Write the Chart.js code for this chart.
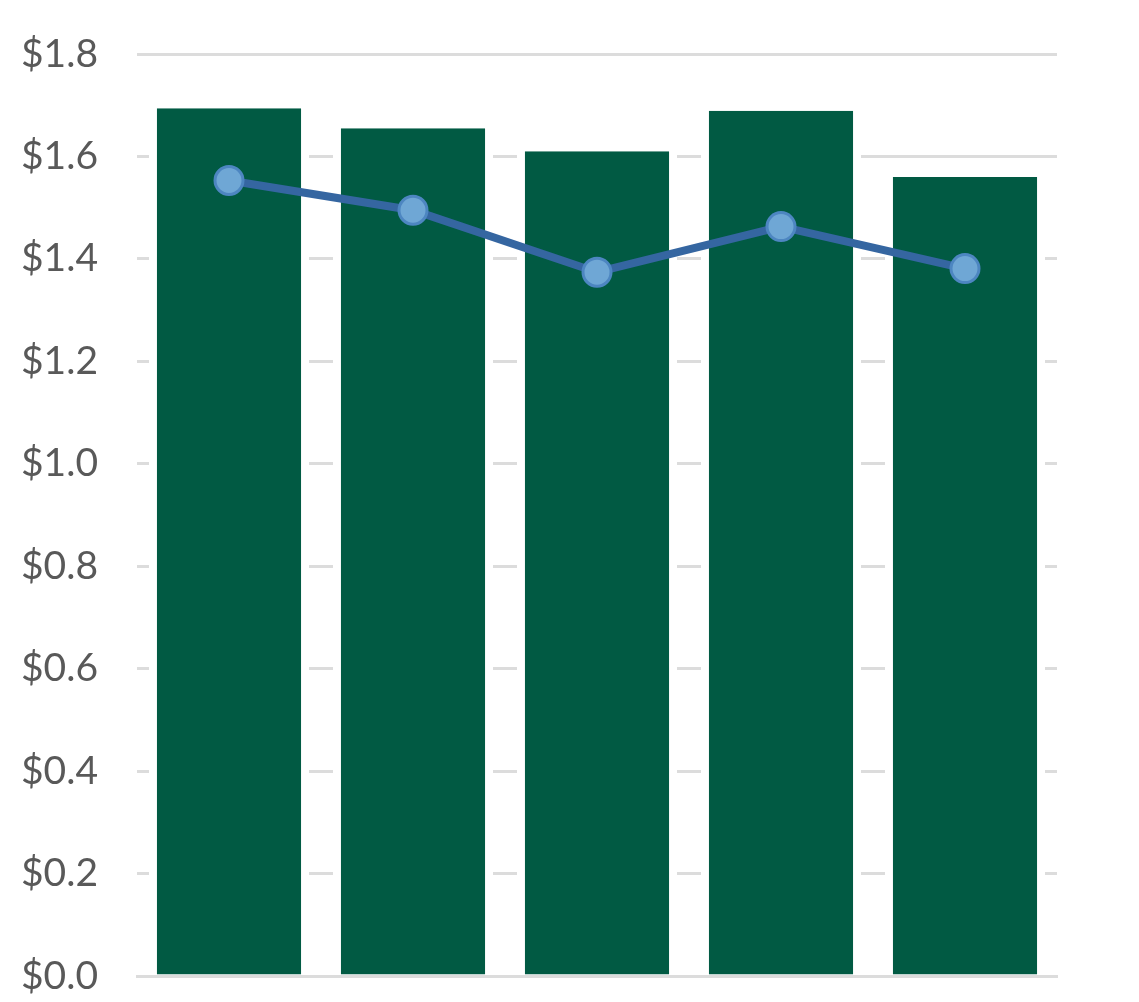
<!DOCTYPE html>
<html>
<head>
<meta charset="utf-8">
<script src="https://cdn.jsdelivr.net/npm/chart.js@4/dist/chart.umd.min.js"></script>
<style>
  html, body { margin: 0; padding: 0; background: #fff; }
  #wrap { width: 1139px; height: 1002px; }
</style>
</head>
<body>
<div id="wrap"><canvas id="chart"></canvas></div>
<script>
// valores
const categorias = ['1', '2', '3', '4', '5'];
const valoresBarra = [1.694, 1.655, 1.610, 1.689, 1.560];
const valoresLinha = [1.553, 1.495, 1.374, 1.463, 1.381];
const ticksY = [0, 0.2, 0.4, 0.6, 0.8, 1.0, 1.2, 1.4, 1.6, 1.8];

document.addEventListener('DOMContentLoaded', function() {
    const ctx = document.getElementById('chart').getContext('2d');
    new Chart(ctx, {
        data: {
            labels: categorias,
            datasets: [
                {
                    type: 'line',
                    data: valoresLinha,
                    order: 1,
                    borderColor: '#3566a1',
                    borderWidth: 8,
                    pointRadius: 14,
                    pointBackgroundColor: '#6fa7d5',
                    pointBorderColor: '#4d86c1',
                    pointBorderWidth: 3,
                    tension: 0
                },
                {
                    type: 'bar',
                    data: valoresBarra,
                    order: 2,
                    backgroundColor: '#015a43',
                    borderColor: '#ffffff',
                    borderWidth: { top: 0, right: 8, bottom: 0, left: 8 },
                    borderSkipped: false,
                    barPercentage: 0.87,
                    categoryPercentage: 1
                }
            ]
        },
        options: {
            responsive: true,
            maintainAspectRatio: false,
            animation: false,
            layout: { padding: { top: 54, right: 82, bottom: 24, left: 0 } },
            plugins: {
                legend: { display: false },
                tooltip: { enabled: false }
            },
            scales: {
                x: {
                    z: 1,
                    afterFit: function(scale) { scale.height = 2; },
                    ticks: { display: false },
                    grid: { display: false },
                    border: { display: true, color: '#dcdcdc', width: 3 }
                },
                y: {
                    min: 0,
                    max: 1.8,
                    afterBuildTicks: function(scale) {
                        scale.ticks = ticksY.map(v => ({ value: v }));
                    },
                    afterFit: function(scale) {
                        // largura fixa e sem folga extra em cima/embaixo
                        scale.width = 137;
                        scale.paddingTop = 20;
                        scale.paddingBottom = 20;
                    },
                    ticks: {
                        padding: 39,
                        color: '#595959',
                        font: { family: 'Lato', size: 39 },
                        callback: v => '$' + Number(v).toFixed(1)
                    },
                    grid: { color: '#dcdcdc', lineWidth: 3, drawTicks: false },
                    border: { display: false }
                }
            }
        }
    });
});
</script>
</body>
</html>
